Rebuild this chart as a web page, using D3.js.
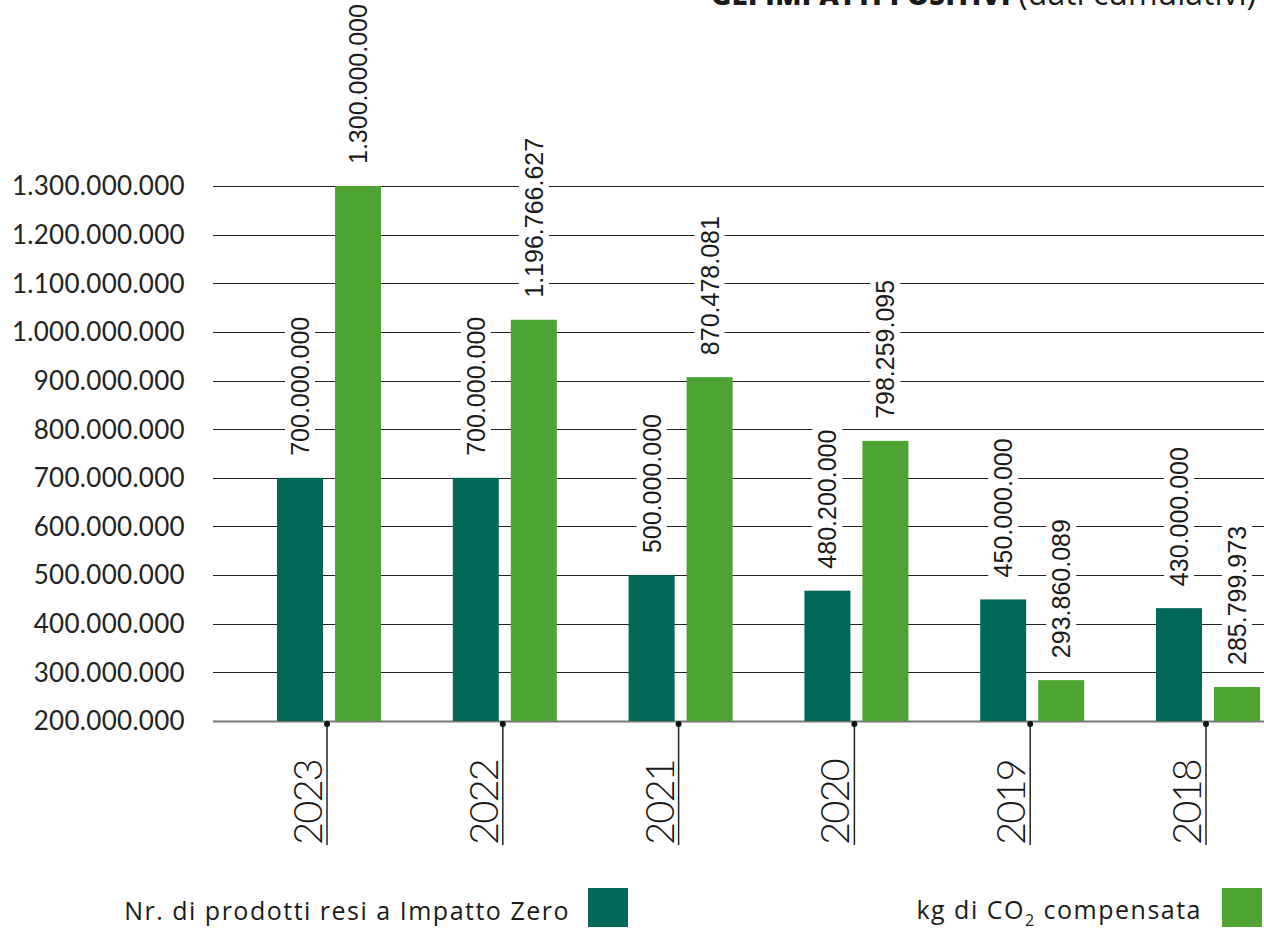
<!DOCTYPE html>
<html><head><meta charset="utf-8">
<script src="https://cdn.jsdelivr.net/npm/d3@7"></script>
<style>body{margin:0;background:#fff}svg{display:block}</style>
</head><body>
<svg id="c" width="1264" height="931"></svg>
<script>
const years = ["2023","2022","2021","2020","2019","2018"];
// bar heights as drawn in the picture
const prodotti = [700000000, 700000000, 500000000, 468000000, 450000000, 432000000];
const co2 = [1300000000, 1025000000, 907000000, 776000000, 284000000, 270000000];
// value labels as printed
const prodottiLabels = ["700.000.000","700.000.000","500.000.000","480.200.000","450.000.000","430.000.000"];
const co2Labels = ["1.300.000.000","1.196.766.627","870.478.081","798.259.095","293.860.089","285.799.973"];
const yTicks = [200000000,300000000,400000000,500000000,600000000,700000000,800000000,900000000,1000000000,1100000000,1200000000,1300000000];
const seriesNames = ["Nr. di prodotti resi a Impatto Zero","kg di CO"];
const colors = ["#006857","#4da432"];

const svg = d3.select("#c");
const y = d3.scaleLinear().domain([200000000,1300000000]).range([721,186]);
const x = d3.scalePoint().domain(years).range([327,1206]);
const fmt = v => d3.format(",")(v).replace(/,/g,".");
const sans = "Lato, 'Open Sans', sans-serif";
const wide = "'Open Sans', Lato, sans-serif";
const arial = "'Liberation Sans', Arial, sans-serif";

// title (cut off at top, as in the source)
const t = svg.append("text").attr("x",1256).attr("y",5).attr("text-anchor","end")
  .attr("font-family",wide).attr("fill","#1a1a1a");
t.append("tspan").attr("font-weight",800).attr("font-size",27).attr("letter-spacing",0.5).text("GLI IMPATTI POSITIVI ");
t.append("tspan").attr("font-weight",400).attr("font-size",32).text("(dati cumulativi)");

// grid
svg.append("g").selectAll("line").data(yTicks).join("line")
  .attr("x1",213).attr("x2",1264).attr("y1",d=>Math.round(y(d))+0.5).attr("y2",d=>Math.round(y(d))+0.5)
  .attr("stroke",d=>d===200000000?"#777":"#222").attr("stroke-width",d=>d===200000000?2:1.2);

// y labels
svg.append("g").selectAll("text").data(yTicks).join("text")
  .attr("x",185).attr("y",d=>y(d)).attr("dy","0.36em").attr("text-anchor","end")
  .attr("font-family",sans).attr("font-size",26).attr("fill","#222").attr("letter-spacing",0.3)
  .text(fmt);

// bars
const offs = [{x0:-50,w:46},{x0:8,w:46}];
const series = [prodotti, co2];
const labels = [prodottiLabels, co2Labels];
series.forEach((s,i)=>{
  svg.append("g").selectAll("rect").data(years).join("rect")
    .attr("x",d=>x(d)+offs[i].x0).attr("width",offs[i].w)
    .attr("y",(d,j)=>y(s[j])).attr("height",(d,j)=>721-y(s[j]))
    .attr("fill",colors[i]);
});

// value labels with white background
series.forEach((s,i)=>{
  const g = svg.append("g");
  years.forEach((d,j)=>{
    const cx = x(d)+offs[i].x0+offs[i].w/2;
    const yb = y(s[j])-22;
    const gg = g.append("g").attr("transform",`translate(${cx},${yb}) rotate(-90)`);
    const tx = gg.append("text").attr("x",0).attr("y",0).attr("dy","0.36em")
      .attr("font-family",arial).attr("font-size",25).attr("fill","#1a1a1a")
      .text(labels[i][j]);
    const bb = tx.node().getBBox();
    gg.insert("rect","text").attr("x",bb.x-4).attr("y",-15).attr("width",bb.width+8).attr("height",30).attr("fill","#fff");
  });
});

// ticks below axis
const tk = svg.append("g").selectAll("g").data(years).join("g").attr("transform",d=>`translate(${x(d)},0)`);
tk.append("line").attr("x1",0).attr("x2",0).attr("y1",724).attr("y2",845).attr("stroke","#222").attr("stroke-width",1.5);
tk.append("circle").attr("cx",0).attr("cy",724).attr("r",3).attr("fill","#111");
tk.append("text").attr("transform","translate(-5,845) rotate(-90)")
  .attr("font-family",sans).attr("font-size",40).attr("font-weight",300).attr("letter-spacing",-2)
  .attr("fill","#1a1a1a").text(d=>d);

// legend
const lg = svg.append("g").attr("font-family",wide).attr("font-size",25).attr("fill","#1a1a1a").attr("letter-spacing",1.5);
lg.append("text").attr("x",570).attr("y",920).attr("text-anchor","end").text(seriesNames[0]);
lg.append("rect").attr("x",588).attr("y",888).attr("width",40).attr("height",39).attr("fill",colors[0]);
const l2 = lg.append("text").attr("x",1202).attr("y",919).attr("text-anchor","end");
l2.append("tspan").text(seriesNames[1]);
l2.append("tspan").attr("font-size",16).attr("dy",7).text("2");
l2.append("tspan").attr("dy",-7).text(" compensata");
lg.append("rect").attr("x",1222).attr("y",888).attr("width",40).attr("height",39).attr("fill",colors[1]);
</script>
</body></html>
